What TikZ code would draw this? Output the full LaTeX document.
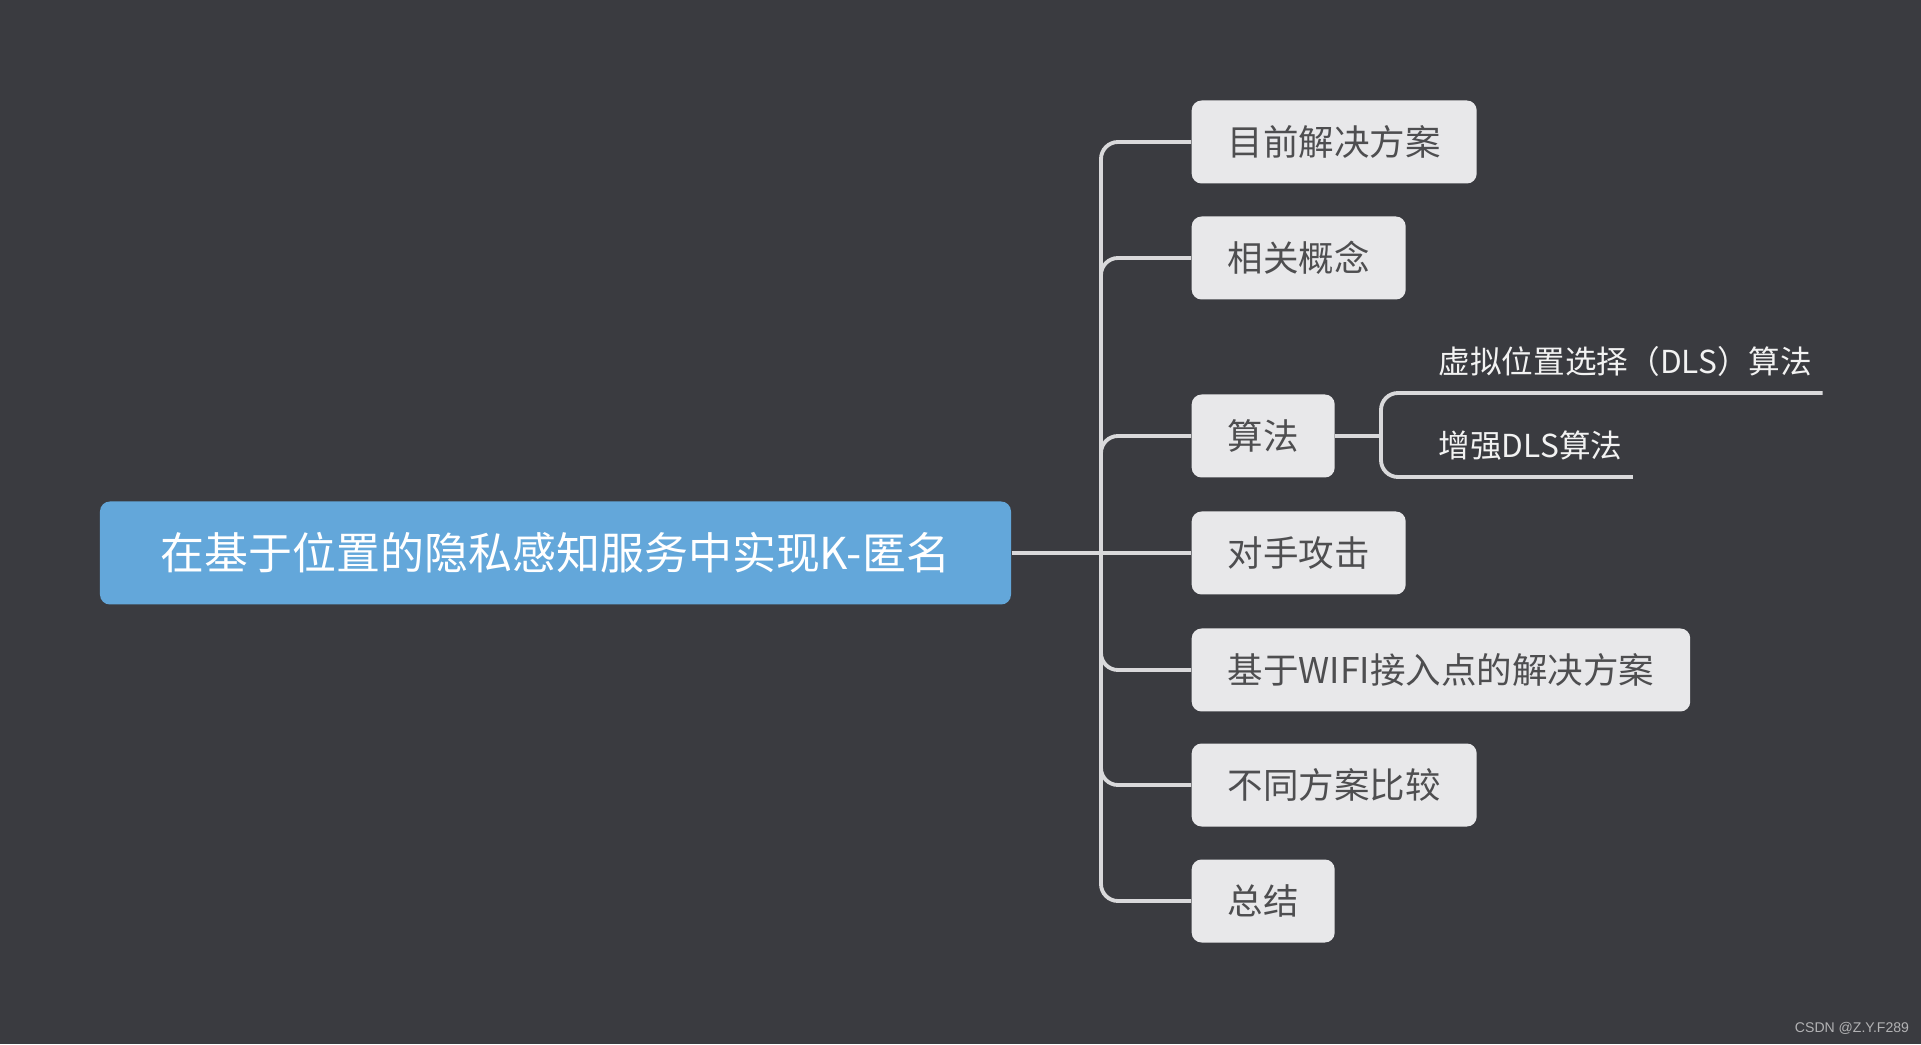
\documentclass[tikz,border=0pt]{standalone}
\usepackage{fontspec}
\setmainfont{Noto Sans CJK SC}
\newfontfamily\markfont{Liberation Sans}
\usepackage{tikz}
\usetikzlibrary{positioning,calc}

\definecolor{bgcol}{HTML}{3A3B40}
\definecolor{rootcol}{HTML}{63A7DA}
\definecolor{boxcol}{HTML}{E8E8EA}
\definecolor{boxtext}{HTML}{4E4E50}
\definecolor{linkcol}{HTML}{D9D9DB}
\definecolor{subtext}{HTML}{F2F2F2}
\definecolor{markcol}{HTML}{B2B2B4}

\begin{document}
\begin{tikzpicture}[
  x=1cm,y=1cm,
  link/.style={draw=linkcol,line width=1.1pt,rounded corners=0.17cm},
  rootbox/.style={fill=rootcol,rounded corners=2.8pt,minimum width=9.11cm,
                  minimum height=1.03cm,text=white,
                  font=\fontsize{12.5}{15}\selectfont},
  topic/.style={fill=boxcol,rounded corners=2.8pt,anchor=west,
                minimum height=0.83cm,inner xsep=0.36cm,text=boxtext,
                font=\fontsize{10.1}{12}\selectfont},
  subtopic/.style={anchor=south west,inner xsep=0.1cm,inner ysep=0.19cm,
                   text depth=0pt,text=subtext,
                   font=\fontsize{9}{11}\selectfont}
]
% background
\fill[bgcol] (0,0) rectangle (19.21,10.44);
\useasboundingbox (0,0) rectangle (19.21,10.44);

% central topic
\node[rootbox] (root) at (5.555,4.91) {在基于位置的隐私感知服务中实现K-匿名};

% main topics
\node[topic] (plan)    at (11.91,9.02) {目前解决方案};
\node[topic] (concept) at (11.91,7.86) {相关概念};
\node[topic] (alg)     at (11.91,6.08) {算法};
\node[topic] (attack)  at (11.91,4.91) {对手攻击};
\node[topic] (wifi)    at (11.91,3.74) {基于WIFI接入点的解决方案};
\node[topic] (compare) at (11.91,2.59) {不同方案比较};
\node[topic] (summary) at (11.91,1.43) {总结};

% subtopics of the algorithm
\node[subtopic] (dls)  at (14.28,6.51) {虚拟位置选择（DLS）算法};
\node[subtopic] (edls) at (14.28,5.67) {增强DLS算法};

% connectors
\coordinate (hub)  at (11.01,4.91);
\coordinate (fork) at (13.81,6.08);
\draw[link] (root.east) -- (attack.west);
\foreach \t in {plan,concept,alg,wifi,compare,summary}
  \draw[link] (hub) |- (\t.west);
\draw[link] (alg.east) -- (fork);
\draw[link] (fork) |- (dls.south east);
\draw[link] (fork) |- (edls.south east);

% watermark
\node[text=markcol,font=\markfont\fontsize{4}{5}\selectfont] (mark)
  at (18.52,0.16) {CSDN @Z.Y.F289};
\end{tikzpicture}
\end{document}
